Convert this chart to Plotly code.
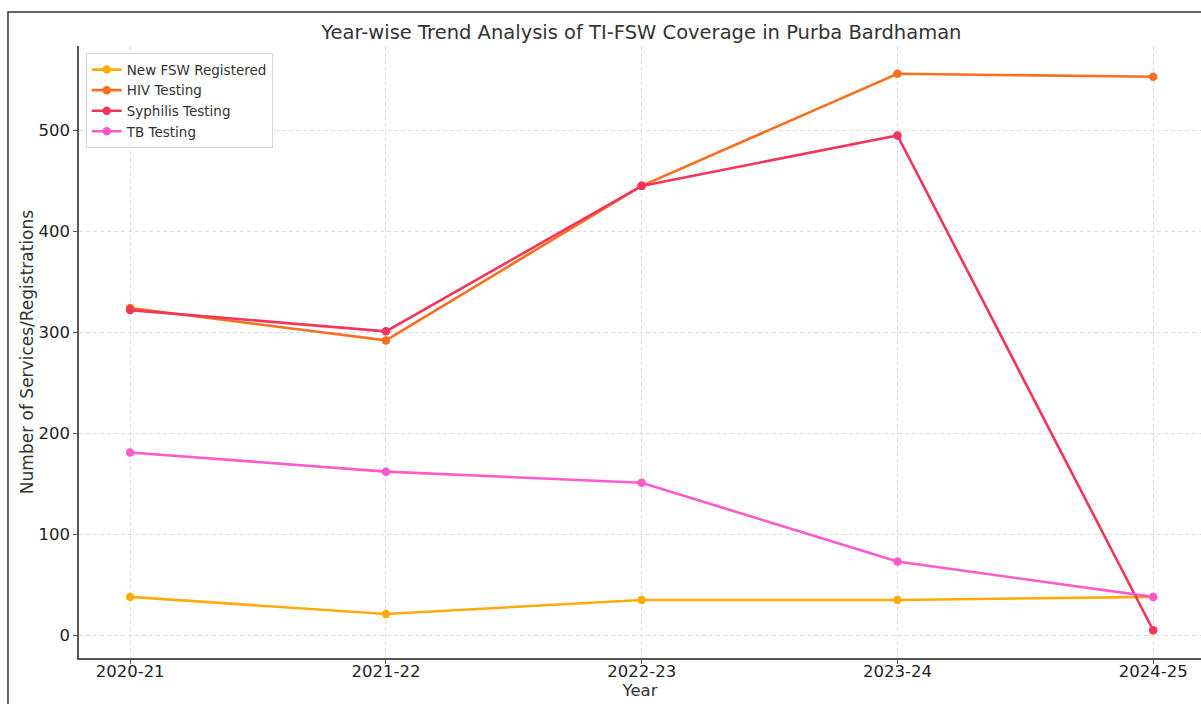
import plotly.graph_objects as go

years = ["2020-21", "2021-22", "2022-23", "2023-24", "2024-25"]
new_fsw = [38, 21, 35, 35, 38]
hiv = [324, 292, 445, 556, 553]
syphilis = [322, 301, 445, 495, 5]
tb = [181, 162, 151, 73, 38]

series = [
    ("New FSW Registered", new_fsw, "#FFAC0A"),
    ("HIV Testing", hiv, "#F7701F"),
    ("Syphilis Testing", syphilis, "#F2355B"),
    ("TB Testing", tb, "#FF5ACB"),
]

font = "DejaVu Sans"

fig = go.Figure()
for name, vals, color in series:
    fig.add_trace(go.Scatter(
        x=years, y=vals, name=name, mode="lines+markers",
        line=dict(color=color, width=2.6),
        marker=dict(color=color, size=8.5),
    ))

fig.update_layout(
    width=1201, height=704,
    margin=dict(l=79, r=0, t=46, b=46, autoexpand=False),
    paper_bgcolor="white", plot_bgcolor="white",
    font=dict(family=font, color="#333333"),
    title=dict(text="Year-wise Trend Analysis of TI-FSW Coverage in Purba Bardhaman",
               x=0.534, xanchor="center", y=0.955, yanchor="middle",
               font=dict(size=19.5, color="#333333")),
    legend=dict(x=0.006, y=0.988, xanchor="left", yanchor="top",
                bgcolor="rgba(255,255,255,0.85)", bordercolor="#d6d6d6", borderwidth=1,
                font=dict(size=13.5, color="#333333"), itemwidth=30, tracegroupgap=0),
    showlegend=True,
)

fig.update_xaxes(
    type="category", range=[-0.2, 4.187], automargin=False,
    showline=True, linecolor="#555555", linewidth=1.5,
    ticks="outside", ticklen=4, tickcolor="#555555", ticklabelstandoff=-7,
    tickfont=dict(size=16.5, color="#222222"),
    showgrid=True, gridcolor="#dddddd", griddash="4px,3px", gridwidth=1,
    title=dict(text="Year", font=dict(size=16.5, color="#333333"), standoff=4),
    zeroline=False,
)
fig.update_yaxes(
    range=[-22.5, 583.5], tickvals=[0, 100, 200, 300, 400, 500], automargin=False,
    showline=True, linecolor="#555555", linewidth=1.5,
    ticks="outside", ticklen=4, tickcolor="#555555",
    tickfont=dict(size=16.5, color="#222222"),
    showgrid=True, gridcolor="#dddddd", griddash="4px,3px", gridwidth=1,
    title=dict(text="Number of Services/Registrations", font=dict(size=17, color="#333333"), standoff=1),
    zeroline=False,
)

# outer frame of the original image
fig.add_shape(type="rect", xref="paper", yref="paper",
              x0=-0.0633, x1=1.2, y0=-0.3, y1=1.0556,
              line=dict(color="#333333", width=1.5), layer="below")

fig.write_html("out.html", config={"displayModeBar": False},
               post_script="document.body.style.margin='0';")
